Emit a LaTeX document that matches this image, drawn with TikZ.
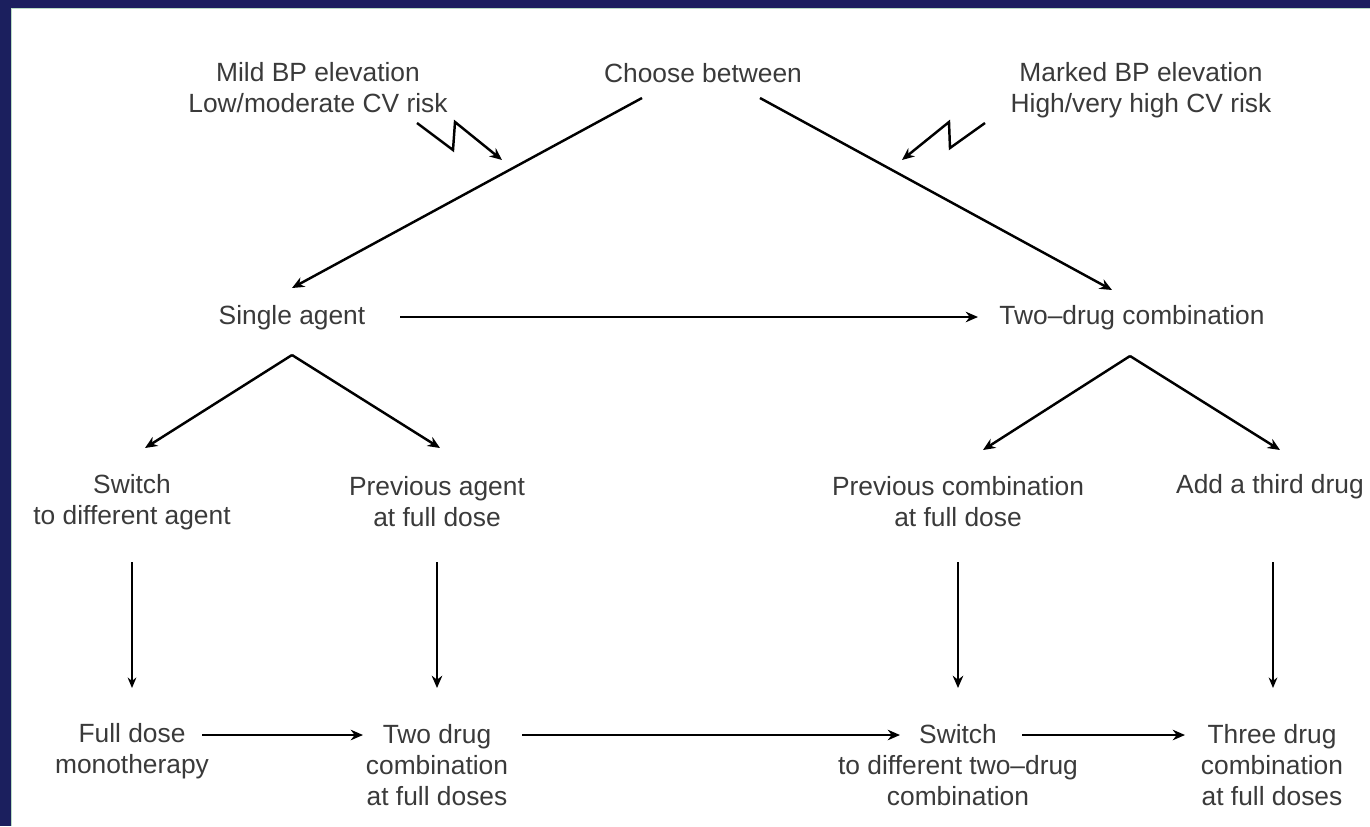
\documentclass[tikz,border=0pt]{standalone}
\usepackage{fontspec}
\setmainfont{Liberation Sans}
\usepackage{xcolor}
\usetikzlibrary{arrows.meta}
\usetikzlibrary{calc}
\definecolor{framenavy}{HTML}{1B1F5E}
\definecolor{framegreen}{HTML}{B8DCC4}
\definecolor{textgrey}{HTML}{3A3A3A}
\tikzset{
    flowlabel/.style={font=\fontsize{15}{17.6}\selectfont, text=textgrey, align=center, inner sep=0pt},
    heavyarrow/.style={line width=1.4pt, -{Stealth[length=7pt,width=6pt]}},
    lightarrow/.style={line width=0.8pt, -{Stealth[length=6pt,width=5pt]}}
}
\begin{document}
\begin{tikzpicture}[x=0.02cm,y=-0.02cm]
        \newcommand{\figbpcolone}{132}
        \newcommand{\figbpcoltwo}{437}
        \newcommand{\figbpcolthree}{958}
        \newcommand{\figbpcolfour}{1272}
        \newcommand{\figbprowmid}{502}
        \newcommand{\figbprowlow}{765}
        \useasboundingbox (0,0) rectangle (1370,826);
        \fill[framenavy] (0,0) rectangle (1370,826);
        \fill[white] (11,8) rectangle (1370,826);
        \draw[framegreen, line width=0.8pt] (11.5,826) -- (11.5,8.5) -- (1370,8.5);
        \node[flowlabel] (mild) at (318,88) {Mild BP elevation\\Low/moderate CV risk};
        \node[flowlabel] (choose) at (703,73) {Choose between};
        \node[flowlabel] (marked) at (1141,90) {Marked BP elevation\\High/very high CV risk};
        \node[flowlabel] (single) at (292,318) {Single agent};
        \node[flowlabel] (twodrug) at (1132,318) {Two–drug combination};
        \node[flowlabel] (switch) at (\figbpcolone,\figbprowmid) {Switch\\to different agent};
        \node[flowlabel] (prevagent) at (\figbpcoltwo,\figbprowmid) {Previous agent\\at full dose};
        \node[flowlabel] (prevcomb) at (\figbpcolthree,\figbprowmid) {Previous combination\\at full dose};
        \node[flowlabel] (third) at (1270,487) {Add a third drug};
        \node[flowlabel] (fullmono) at (\figbpcolone,751) {Full dose\\monotherapy};
        \node[flowlabel] (twofull) at (\figbpcoltwo,\figbprowlow) {Two drug\\combination\\at full doses};
        \node[flowlabel] (switchtwo) at (\figbpcolthree,\figbprowlow) {Switch\\to different two–drug\\combination};
        \node[flowlabel] (threefull) at (\figbpcolfour,\figbprowlow) {Three drug\\combination\\at full doses};
        \draw[heavyarrow] ($(choose)+(-61,25)$) -- ($(single)+(0,-30)$);
        \draw[heavyarrow] ($(choose)+(57,25)$) -- ($(twodrug)+(-20,-28)$);
        \draw[heavyarrow] ($(mild)+(99,35)$) -- ++(36,27) -- ++(2,-28) -- ++(47,38);
        \draw[heavyarrow] ($(marked)+(-156,33)$) -- ++(-35,25) -- ++(-1,-26) -- ++(-47,38);
        \draw[line width=1.1pt, -{Stealth[length=7pt,width=6pt]}] ($(single)+(108,-1)$) -- ($(twodrug)+(-154,-1)$);
        \draw[heavyarrow] ($(single)+(0,37)$) -- ($(switch)+(13,-54)$);
        \draw[heavyarrow] ($(single)+(0,37)$) -- ($(prevagent)+(3,-54)$);
        \draw[heavyarrow] ($(twodrug)+(-2,38)$) -- ($(prevcomb)+(25,-52)$);
        \draw[heavyarrow] ($(twodrug)+(-2,38)$) -- ($(third)+(10,-37)$);
        \draw[lightarrow] ($(switch)+(0,60)$) -- ($(fullmono)+(0,-63)$);
        \draw[heavyarrow] ($(prevagent)+(0,60)$) -- ($(twofull)+(0,-77)$);
        \draw[heavyarrow] ($(prevcomb)+(0,60)$) -- ($(switchtwo)+(0,-77)$);
        \draw[lightarrow] ($(third)+(3,75)$) -- ($(threefull)+(1,-77)$);
        \draw[heavyarrow] ($(fullmono)+(70,-16)$) -- ($(twofull)+(-74,-30)$);
        \draw[heavyarrow] ($(twofull)+(85,-30)$) -- ($(switchtwo)+(-58,-30)$);
        \draw[heavyarrow] ($(switchtwo)+(64,-30)$) -- ($(threefull)+(-87,-30)$);
    \end{tikzpicture}
\end{document}
